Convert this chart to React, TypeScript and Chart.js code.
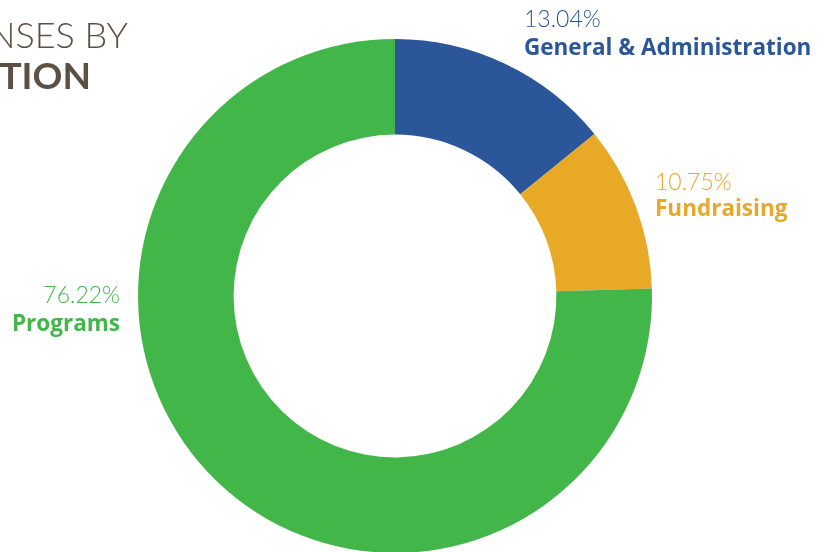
import React, { useEffect, useRef } from "react";
import { Chart, registerables } from "chart.js";

Chart.register(...registerables);

const categories = ["General & Administration", "Fundraising", "Programs"];
// arc sizes as drawn in the picture
const values = [14.14, 10.39, 75.47];
const percentLabels = ["13.04%", "10.75%", "76.22%"];
const colors = ["#2b5699", "#e8a927", "#43b649"];
const titleLines = ["EXPENSES BY", "FUNCTION"];

const labelPlugin = {
  id: "labelPlugin",
  afterDraw(chart: any) {
    const ctx = chart.ctx;
    ctx.save();
    ctx.fillStyle = "#5b5043";
    ctx.textBaseline = "alphabetic";
    ctx.textAlign = "right";
    ctx.font = "300 36px Lato";
    ctx.fillText(titleLines[0], 128, 48);
    ctx.font = "700 37px Lato";
    ctx.fillText(titleLines[1], 91, 89);

    const anchors = [
      { x: 524, y1: 27, y2: 55, align: "left" },
      { x: 655, y1: 190, y2: 216, align: "left" },
      { x: 120, y1: 303, y2: 331, align: "right" },
    ];
    categories.forEach((cat, i) => {
      const a = anchors[i];
      ctx.textAlign = a.align;
      ctx.fillStyle = colors[i];
      ctx.font = "300 23px Lato";
      ctx.fillText(percentLabels[i], a.x, a.y1);
      ctx.font = "700 22.5px 'Open Sans'";
      ctx.fillText(cat, a.x, a.y2);
    });
    ctx.restore();
  },
};

export default function App() {
  const ref = useRef<HTMLCanvasElement | null>(null);
  useEffect(() => {
    if (!ref.current) return;
    const chart = new Chart(ref.current, {
      type: "doughnut",
      data: {
        labels: categories,
        datasets: [
          {
            data: values,
            backgroundColor: colors,
            borderWidth: 0,
            hoverOffset: 0,
          },
        ],
      },
      options: {
        responsive: false,
        animation: false,
        devicePixelRatio: 1,
        cutout: "62.8%",
        rotation: 0,
        layout: { padding: { left: 138, top: 39, right: 178, bottom: 7 } },
        plugins: {
          legend: { display: false },
          tooltip: { enabled: false },
          title: { display: false },
        },
      },
      plugins: [labelPlugin],
    });
    return () => chart.destroy();
  }, []);
  return (
    <div style={{ position: "fixed", left: 0, top: 0, width: 830, height: 560, background: "#fff" }}>
      <canvas ref={ref} width={830} height={560} style={{ display: "block" }} />
    </div>
  );
}
